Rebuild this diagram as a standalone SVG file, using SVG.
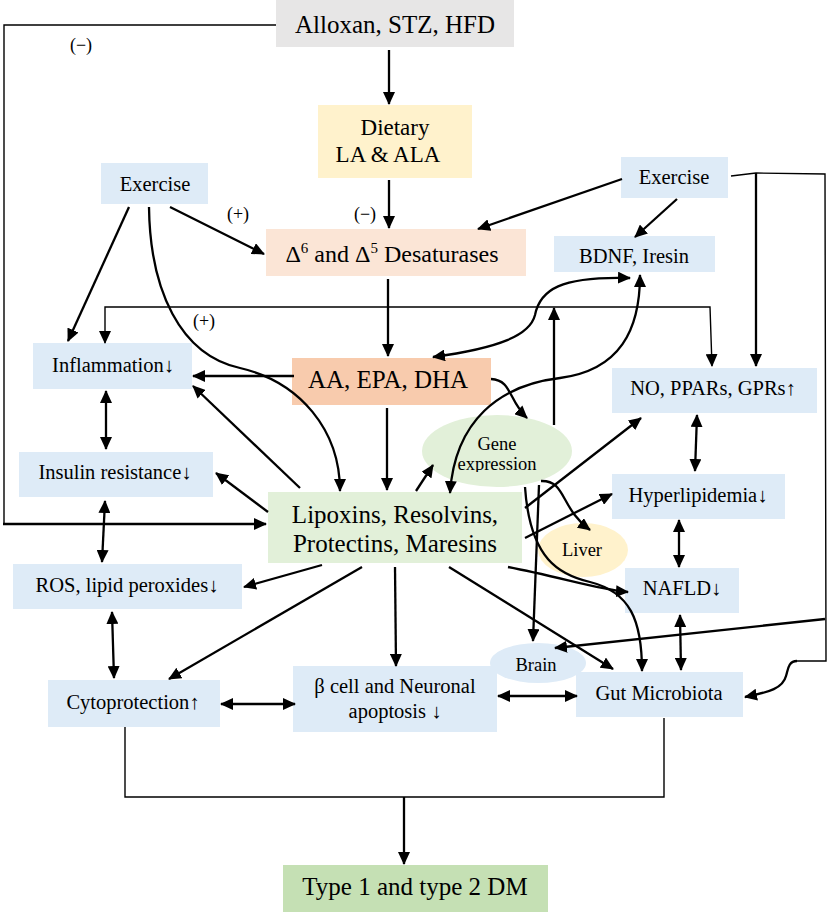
<svg xmlns="http://www.w3.org/2000/svg" width="828" height="912" viewBox="0 0 828 912">
<style>
text{font-family:"Liberation Serif","Times New Roman",serif;fill:#000;text-anchor:middle}
.lg{font-size:25px}
.md{font-size:20.5px}
.sm{font-size:18.5px}
.sg{font-size:18px}
.c{fill:none;stroke:#000;stroke-width:2.3}
.t{fill:none;stroke:#000;stroke-width:1.4}
.e{marker-end:url(#ah)}
.b{marker-start:url(#ah);marker-end:url(#ah)}
</style>
<defs>
<marker id="ah" markerUnits="userSpaceOnUse" markerWidth="13" markerHeight="12" viewBox="0 0 13 12" refX="12" refY="6" orient="auto-start-reverse">
<path d="M0,0 L13,6 L0,12 z" fill="#000"/>
</marker>
<clipPath id="gclip"><rect x="420" y="410" width="160" height="62"/></clipPath>
</defs>

<g id="n-alloxan"><rect x="276" y="0" width="238" height="47" fill="#e7e6e6"/><text class="lg" x="395" y="33">Alloxan, STZ, HFD</text></g>
<g id="n-dietary"><rect x="318" y="105" width="154" height="73" fill="#fff2cc"/><text class="lg" x="395" y="135" style="font-size:23px">Dietary</text><text class="lg" x="388" y="162" style="font-size:23px">LA &amp; ALA</text></g>
<g id="n-exercise-l"><rect x="101" y="163" width="107" height="41" fill="#deebf7"/><text class="md" x="155" y="191">Exercise</text></g>
<g id="n-desat"><rect x="266" y="229" width="260" height="47" fill="#fbe5d6"/><text x="392" y="262" style="font-size:24px">Δ<tspan font-size="15" dy="-9">6</tspan><tspan dy="9"> and Δ</tspan><tspan font-size="15" dy="-9">5</tspan><tspan dy="9"> Desaturases</tspan></text></g>
<g id="n-exercise-r"><rect x="621" y="157" width="107" height="41" fill="#deebf7"/><text class="md" x="674" y="184">Exercise</text></g>
<g id="n-bdnf"><rect x="554" y="236" width="161" height="36" fill="#deebf7"/><text class="md" x="634" y="263">BDNF, Iresin</text></g>
<g id="n-inflam"><rect x="33" y="343" width="159" height="46" fill="#deebf7"/><text class="md" x="113" y="372">Inflammation↓</text></g>
<g id="n-aa"><rect x="292" y="358" width="199" height="47" fill="#f8cbad"/><text class="lg" x="388" y="388">AA, EPA, DHA</text></g>
<g id="n-no"><rect x="612" y="368" width="205" height="45" fill="#deebf7"/><text class="md" x="713" y="395">NO, PPARs, GPRs↑</text></g>
<g id="n-gene"><ellipse cx="497" cy="451" rx="75" ry="36" fill="#e2f0d9"/><g clip-path="url(#gclip)"><text class="sm" x="497" y="450">Gene</text><text class="sm" x="497" y="470">expression</text></g></g>
<g id="n-insulin"><rect x="19" y="452" width="194" height="45" fill="#deebf7"/><text class="md" x="115" y="479">Insulin resistance↓</text></g>
<g id="n-hyper"><rect x="612" y="474" width="173" height="45" fill="#deebf7"/><text class="md" x="698" y="502">Hyperlipidemia↓</text></g>
<g id="n-lipoxins"><rect x="268" y="492" width="254" height="71" fill="#e2f0d9"/><text class="lg" x="395" y="523">Lipoxins, Resolvins,</text><text class="lg" x="395" y="552">Protectins, Maresins</text></g>
<g id="n-liver"><ellipse cx="583" cy="550" rx="45" ry="27" fill="#fff2cc"/><text class="sm" x="582" y="556">Liver</text></g>
<g id="n-ros"><rect x="13" y="564" width="229" height="45" fill="#deebf7"/><text class="md" x="127" y="592">ROS, lipid peroxides↓</text></g>
<g id="n-nafld"><rect x="625" y="568" width="114" height="45" fill="#deebf7"/><text class="md" x="682" y="595">NAFLD↓</text></g>
<g id="n-brain"><ellipse cx="538" cy="663" rx="48" ry="20" fill="#deebf7"/><text class="sm" x="536" y="671">Brain</text></g>
<g id="n-cyto"><rect x="48" y="680" width="172" height="47" fill="#deebf7"/><text class="md" x="133" y="709">Cytoprotection↑</text></g>
<g id="n-beta"><rect x="293" y="666" width="204" height="66" fill="#deebf7"/><text class="md" x="395" y="693">β cell and Neuronal</text><text class="md" x="395" y="718">apoptosis ↓</text></g>
<g id="n-gut"><rect x="576" y="672" width="167" height="45" fill="#deebf7"/><text class="md" x="659" y="700">Gut Microbiota</text></g>
<g id="n-dm"><rect x="283" y="865" width="265" height="47" fill="#c5e0b4"/><text class="lg" x="415" y="895">Type 1 and type 2 DM</text></g>

<g id="labels">
<text class="sg" x="81" y="51">(−)</text>
<text class="sg" x="238" y="220">(+)</text>
<text class="sg" x="365" y="220">(−)</text>
<text class="sg" x="204" y="327">(+)</text>
</g>

<g id="connectors">
<path class="t" d="M276,25 L4,25 L4,524"/>
<path class="c e" d="M3,524 L266,524"/>
<path class="c e" d="M389,50 L389,104"/>
<path class="c e" d="M389,180 L389,228"/>
<path class="c e" d="M388,279 L388,356"/>
<path class="c e" d="M387,408 L387,490"/>
<path class="c e" d="M294,376 L193,376"/>
<path class="c e" d="M170,207 L264,254"/>
<path class="c e" d="M129,207 L68,341"/>
<path class="c e" d="M149,207 C150,290 180,355 240,368 C300,382 340,430 340,491"/>
<path class="t b" d="M105,343 L105,307 L710,307 L712,366"/>
<path class="c b" d="M106,391 L106,449"/>
<path class="c b" d="M105,501 L102,562"/>
<path class="c b" d="M112,612 L114,678"/>
<path class="c b" d="M221,704 L295,704"/>
<path class="c b" d="M498,696 L577,696"/>
<path class="c e" d="M300,488 L193,386"/>
<path class="c e" d="M268,512 L216,473"/>
<path class="c e" d="M322,565 L244,587"/>
<path class="c e" d="M362,567 L169,679"/>
<path class="c e" d="M395,567 L396,666"/>
<path class="c e" d="M449,567 L613,669"/>
<path class="c e" d="M508,567 C560,577 600,590 628,592"/>
<path class="c e" d="M525,538 L612,494"/>
<path class="c e" d="M525,508 L641,418"/>
<path class="c e" d="M416,491 L433,465"/>
<path class="c e" d="M491,379 C512,380 508,400 527,418"/>
<path class="c e" d="M554,425 L554,308"/>
<path class="c b" d="M433,357 C500,348 530,335 535,315 C540,290 560,276 630,278"/>
<path class="c b" d="M450,493 C455,420 500,385 560,378 C620,370 640,330 640,275"/>
<path class="c e" d="M539,485 L533,641"/>
<path class="c e" d="M525,487 C530,560 560,575 590,582 C630,592 642,620 642,671"/>
<path class="c e" d="M541,481 C566,480 560,508 590,530"/>
<path class="c e" d="M622,179 L478,229"/>
<path class="c e" d="M677,199 L635,237"/>
<path class="t" d="M731,176 L756,173 L825,174 L826,661 L797,661"/>
<path class="c e" d="M797,661 C788,661 788,670 786,676 C783,688 770,692 745,697"/>
<path class="c e" d="M756,173 L756,366"/>
<path class="c e" d="M825,619 L555,648"/>
<path class="c b" d="M697,415 L695,471"/>
<path class="c b" d="M679,520 L679,567"/>
<path class="c b" d="M680,615 L681,670"/>
<path class="t" d="M125,727 L125,797 L664,797 L664,718"/>
<path class="c e" d="M404,797 L404,864"/>
</g>
</svg>
